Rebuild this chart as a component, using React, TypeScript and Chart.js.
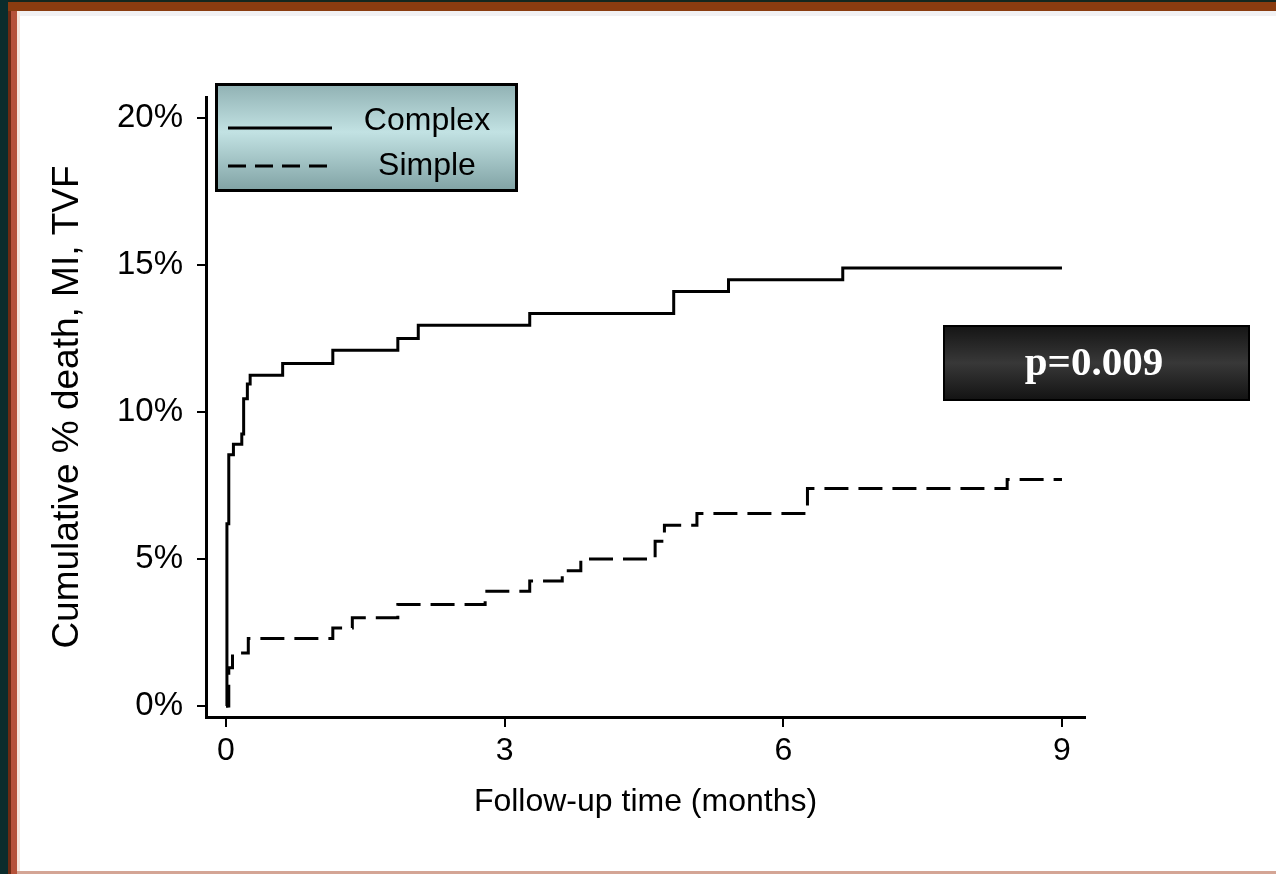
import React, { useEffect, useRef } from "react";
import { Chart, registerables } from "chart.js";

Chart.register(...registerables);

// ---- data ----
const seriesLabels = ["Complex", "Simple"];
const complexTimes = [0, 0.01, 0.03, 0.08, 0.17, 0.19, 0.23, 0.26, 0.61, 1.15, 1.85, 2.07, 3.27, 4.82, 5.41, 6.64, 9.0];
const complexValues = [0, 6.2, 8.55, 8.9, 9.25, 10.45, 10.95, 11.25, 11.65, 12.1, 12.5, 12.95, 13.35, 14.1, 14.5, 14.9, 14.9];
const simpleTimes = [0, 0.03, 0.07, 0.24, 1.15, 1.36, 1.85, 2.79, 3.27, 3.62, 3.82, 4.62, 4.72, 5.07, 6.26, 8.41, 9.0];
const simpleValues = [0, 1.3, 1.8, 2.3, 2.65, 3.0, 3.45, 3.9, 4.25, 4.6, 5.0, 5.6, 6.15, 6.55, 7.4, 7.7, 7.7];
const xTickValues = [0, 3, 6, 9];
const yTickValues = [0, 5, 10, 15, 20];
const xTitle = "Follow-up time (months)";
const yTitle = "Cumulative % death, MI, TVF";
const pValueText = "p=0.009";

const SANS = '"Liberation Sans", Arial, Helvetica, sans-serif';
const SERIF = '"Liberation Serif", "Times New Roman", serif';

const framePlugin = {
  id: "frame",
  beforeDraw(chart: any) {
    const ctx = chart.ctx;
    const w = chart.width;
    const h = chart.height;
    ctx.save();
    ctx.fillStyle = "#ffffff";
    ctx.fillRect(0, 0, w, h);
    // top stripes
    ctx.fillStyle = "#13271f";
    ctx.fillRect(0, 0, w, 2);
    ctx.fillStyle = "#8a3c10";
    ctx.fillRect(0, 2, w, 9);
    ctx.fillStyle = "#f1f1f3";
    ctx.fillRect(0, 11, w, 5);
    // left stripes
    ctx.fillStyle = "#0b2c2c";
    ctx.fillRect(0, 0, 8, h);
    ctx.fillStyle = "#6e2a12";
    ctx.fillRect(8, 11, 3, h - 11);
    ctx.fillStyle = "#b5523a";
    ctx.fillRect(11, 11, 6, h - 11);
    ctx.fillStyle = "#f6e6dc";
    ctx.fillRect(17, 11, 3, h - 11);
    // bottom line
    ctx.fillStyle = "#d4a595";
    ctx.fillRect(17, h - 3, w, 3);
    ctx.restore();
  },
  afterDraw(chart: any) {
    const ctx = chart.ctx;
    const ds = chart.data.datasets;
    ctx.save();
    // legend box
    const lx = 215, ly = 83, lw = 303, lh = 109;
    const g = ctx.createLinearGradient(0, ly, 0, ly + lh);
    g.addColorStop(0, "#8fb0b2");
    g.addColorStop(0.45, "#c2e2e3");
    g.addColorStop(1, "#7fa1a3");
    ctx.fillStyle = g;
    ctx.fillRect(lx, ly, lw, lh);
    ctx.lineWidth = 3;
    ctx.strokeStyle = "#000";
    ctx.strokeRect(lx + 1.5, ly + 1.5, lw - 3, lh - 3);
    const rows = [128, 166];
    const textX = [427, 427];
    ds.forEach((d: any, i: number) => {
      ctx.beginPath();
      ctx.setLineDash(i === 0 ? [] : [18, 9]);
      ctx.lineWidth = 3;
      ctx.strokeStyle = d.borderColor;
      ctx.moveTo(228, rows[i]);
      ctx.lineTo(i === 0 ? 332 : 327, rows[i]);
      ctx.stroke();
      ctx.setLineDash([]);
      ctx.fillStyle = "#000";
      ctx.font = `32px ${SANS}`;
      ctx.textAlign = "center";
      ctx.textBaseline = "middle";
      ctx.fillText(d.label, textX[i], rows[i] - (i === 0 ? 7 : 0));
    });
    // p-value box
    const px = 943, py = 325, pw = 307, ph = 76;
    const g2 = ctx.createLinearGradient(0, py, 0, py + ph);
    g2.addColorStop(0, "#141414");
    g2.addColorStop(0.5, "#383838");
    g2.addColorStop(1, "#121212");
    ctx.fillStyle = g2;
    ctx.fillRect(px, py, pw, ph);
    ctx.lineWidth = 2;
    ctx.strokeStyle = "#000";
    ctx.strokeRect(px + 1, py + 1, pw - 2, ph - 2);
    ctx.fillStyle = "#ffffff";
    ctx.font = `bold 41px ${SERIF}`;
    ctx.textAlign = "center";
    ctx.textBaseline = "middle";
    ctx.fillText(pValueText, 1094, 364);
    ctx.restore();
  },
};

export default function App() {
  const canvasRef = useRef<HTMLCanvasElement | null>(null);

  useEffect(() => {
    const canvas = canvasRef.current;
    if (!canvas) return;
    const complexData = complexTimes.map((t, i) => ({ x: t, y: complexValues[i] }));
    const simpleData = simpleTimes.map((t, i) => ({ x: t, y: simpleValues[i] }));
    const chart = new Chart(canvas, {
      type: "line",
      data: {
        datasets: [
          {
            label: seriesLabels[0],
            data: complexData,
            borderColor: "#000000",
            borderWidth: 3,
            pointRadius: 0,
            stepped: "before",
            fill: false,
            tension: 0,
          },
          {
            label: seriesLabels[1],
            data: simpleData,
            borderColor: "#000000",
            borderWidth: 3,
            borderDash: [24, 10],
            pointRadius: 0,
            stepped: "before",
            fill: false,
            tension: 0,
          },
        ],
      },
      options: {
        animation: false,
        responsive: false,
        devicePixelRatio: 1,
        layout: { padding: { top: 97, right: 191, left: 0, bottom: 0 } },
        plugins: {
          legend: { display: false },
          tooltip: { enabled: false },
          title: { display: false },
        },
        scales: {
          x: {
            type: "linear",
            min: -0.2153,
            max: 9.248,
            afterBuildTicks: (scale: any) => {
              scale.ticks = xTickValues.map((v) => ({ value: v }));
            },
            afterFit: (scale: any) => {
              scale.height = 157;
            },
            ticks: {
              color: "#000",
              font: { family: SANS, size: 32 },
              padding: 5,
              maxRotation: 0,
              autoSkip: false,
              callback: (v: any) => String(v),
            },
            grid: {
              display: true,
              drawOnChartArea: false,
              drawTicks: true,
              tickLength: 10,
              color: "#000",
              lineWidth: 2,
            },
            border: { display: true, color: "#000", width: 3 },
            title: {
              display: true,
              text: xTitle,
              color: "#000",
              font: { family: SANS, size: 32 },
              padding: { top: 0, bottom: 53 },
            },
          },
          y: {
            type: "linear",
            min: -0.374,
            max: 20.714,
            afterBuildTicks: (scale: any) => {
              scale.ticks = yTickValues.map((v) => ({ value: v }));
            },
            afterFit: (scale: any) => {
              scale.width = 206;
            },
            ticks: {
              color: "#000",
              font: { family: SANS, size: 33 },
              padding: 14,
              autoSkip: false,
              callback: (v: any) => `${v}%`,
            },
            grid: {
              display: true,
              drawOnChartArea: false,
              drawTicks: true,
              tickLength: 9,
              color: "#000",
              lineWidth: 2,
            },
            border: { display: true, color: "#000", width: 3 },
            title: {
              display: true,
              text: yTitle,
              color: "#000",
              font: { family: SANS, size: 37 },
              padding: { top: 46, bottom: 0 },
            },
          },
        },
      },
      plugins: [framePlugin],
    });
    return () => chart.destroy();
  }, []);

  return (
    <div style={{ position: "fixed", left: 0, top: 0, width: 1276, height: 874, background: "#fff" }}>
      <canvas ref={canvasRef} width={1276} height={874} style={{ display: "block", width: 1276, height: 874 }} />
    </div>
  );
}
